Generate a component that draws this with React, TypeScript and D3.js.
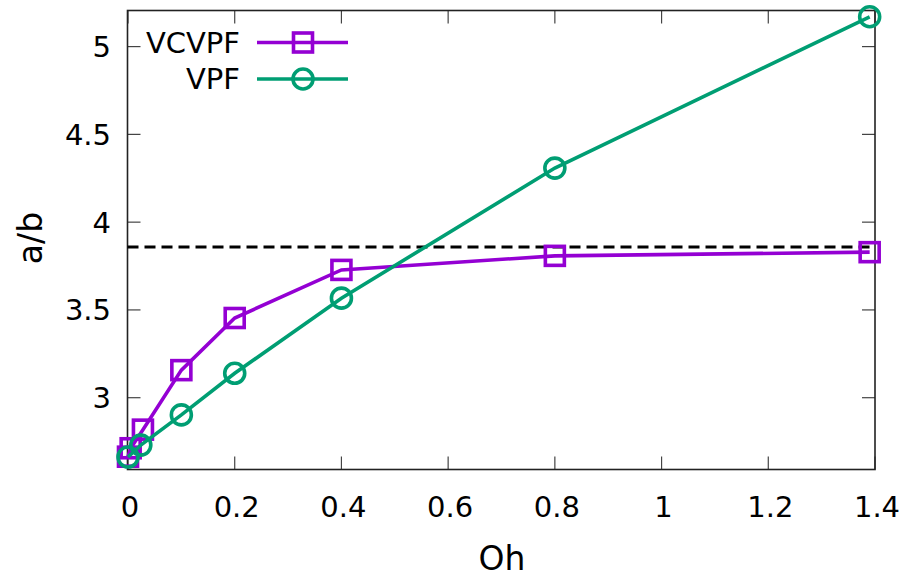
import React from "react";
import * as d3 from "d3";

const xTicks = [0, 0.2, 0.4, 0.6, 0.8, 1, 1.2, 1.4];
const yTicks = [3, 3.5, 4, 4.5, 5];
const vcvpfX = [0, 0.005, 0.028, 0.1, 0.2, 0.4, 0.8, 1.39];
const vcvpfY = [2.664, 2.712, 2.818, 3.157, 3.454, 3.728, 3.808, 3.829];
const vpfX = [0, 0.024, 0.1, 0.2, 0.4, 0.8, 1.39];
const vpfY = [2.662, 2.73, 2.902, 3.139, 3.567, 4.308, 5.17];
const refY = 3.858;

const L = 127.5, R = 875, T = 10.5, B = 469.5;
const PURPLE = "#9400d3";
const GREEN = "#009e73";
const FONT = "DejaVu Sans";
const LW = 3.6;

export default function App() {
  const x = d3.scaleLinear().domain([0, 1.4]).range([128, 875]);
  const y = d3.scaleLinear().domain([3, 5]).range([397.7, 46.6]);
  const line = d3.line<[number, number]>().x(d => x(d[0])).y(d => y(d[1]));
  const vc = vcvpfX.map((v, i) => [v, vcvpfY[i]] as [number, number]);
  const vp = vpfX.map((v, i) => [v, vpfY[i]] as [number, number]);
  const S = 19;
  return (
    <svg width={904} height={571} style={{ position: "absolute", left: 0, top: 0, background: "#fff" }} fontFamily={FONT}>
      <rect x={0} y={0} width={904} height={571} fill="#fff" />
      {xTicks.map(t => (
        <g key={"xt" + t}>
          <line x1={x(t)} x2={x(t)} y1={B} y2={B - 13} stroke="#444" strokeWidth={1.2} />
          <line x1={x(t)} x2={x(t)} y1={T} y2={T + 13} stroke="#444" strokeWidth={1.2} />
          <text x={x(t) + 2} y={517} fontSize={29} textAnchor="middle">{t}</text>
        </g>
      ))}
      {yTicks.map(t => (
        <g key={"yt" + t}>
          <line x1={L} x2={L + 13} y1={y(t)} y2={y(t)} stroke="#444" strokeWidth={1.2} />
          <line x1={R} x2={R - 13} y1={y(t)} y2={y(t)} stroke="#444" strokeWidth={1.2} />
          <text x={111} y={y(t) + 10.5} fontSize={29} textAnchor="end">{t}</text>
        </g>
      ))}
      <rect x={L} y={T} width={R - L} height={B - T} fill="none" stroke="#222" strokeWidth={1.6} />
      <text x={502} y={570} fontSize={33} textAnchor="middle">Oh</text>
      <text transform={`translate(42,238) rotate(-90)`} fontSize={33} textAnchor="middle">a/b</text>
      <line x1={L} x2={R} y1={y(refY)} y2={y(refY)} stroke="#000" strokeWidth={3} strokeDasharray="11,6" />
      <path d={line(vc) || ""} fill="none" stroke={PURPLE} strokeWidth={LW} />
      {vc.map((d, i) => (
        <rect key={"s" + i} x={x(d[0]) - S / 2} y={y(d[1]) - S / 2} width={S} height={S} fill="none" stroke={PURPLE} strokeWidth={LW} />
      ))}
      <path d={line(vp) || ""} fill="none" stroke={GREEN} strokeWidth={LW} />
      {vp.map((d, i) => (
        <circle key={"c" + i} cx={x(d[0])} cy={y(d[1])} r={10} fill="none" stroke={GREEN} strokeWidth={LW} />
      ))}
      <text x={240} y={52.5} fontSize={29} textAnchor="end">VCVPF</text>
      <line x1={257} x2={348} y1={42.5} y2={42.5} stroke={PURPLE} strokeWidth={LW} />
      <rect x={303 - S / 2} y={42.5 - S / 2} width={S} height={S} fill="none" stroke={PURPLE} strokeWidth={LW} />
      <text x={240} y={89} fontSize={29} textAnchor="end">VPF</text>
      <line x1={257} x2={348} y1={79} y2={79} stroke={GREEN} strokeWidth={LW} />
      <circle cx={303} cy={79} r={10} fill="none" stroke={GREEN} strokeWidth={LW} />
    </svg>
  );
}
